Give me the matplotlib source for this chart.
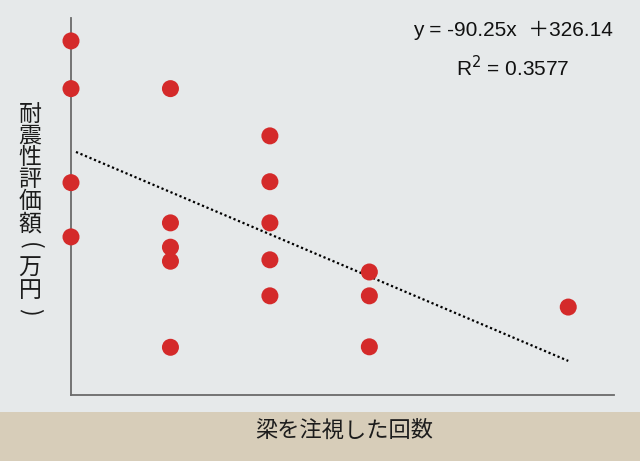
import matplotlib
matplotlib.use("Agg")
import matplotlib.pyplot as plt
from matplotlib.patches import Rectangle

# ---------------------------------------------------------------------------
# Datos
# ---------------------------------------------------------------------------
gaze_count = [0, 0, 0, 0,
              1, 1, 1, 1, 1,
              2, 2, 2, 2, 2,
              3, 3, 3,
              5]
seismic_value = [559, 457, 256, 140,
                 457, 170, 118, 88, -96,
                 356, 258, 170, 91, 14,
                 65, 14, -95,
                 -10]

slope = -90.25
intercept = 326.14
r2 = 0.3577

x_label = "梁を注視した回数"
y_label = "耐震性評価額(万円)"

# ---------------------------------------------------------------------------
# Figura
# ---------------------------------------------------------------------------
plt.rcParams["font.family"] = ["Noto Sans CJK JP", "DejaVu Sans"]

W, H = 640, 461
fig = plt.figure(figsize=(6.4, 4.61), dpi=100, facecolor="#e6e9ea")
# banda inferior beige
fig.patches.append(Rectangle((0, 0), 1, 49 / H, transform=fig.transFigure,
                             facecolor="#d7cdb9", edgecolor="none", zorder=0))

ax = fig.add_axes([71 / W, 66 / H, (614 - 71) / W, (443 - 66) / H])
ax.set_facecolor("none")

ax.scatter(gaze_count, seismic_value, s=150, color="#d42a2a",
           edgecolors="none", zorder=3, clip_on=False)

xs = [0.05, 5.0]
ax.plot(xs, [slope * x + intercept for x in xs], color="black",
        linestyle=(0, (1, 1.2)), linewidth=1.6, zorder=2)

ax.set_xlim(0, 5.46)
ax.set_ylim(-198, 608)

for side in ("top", "right"):
    ax.spines[side].set_visible(False)
for side in ("left", "bottom"):
    ax.spines[side].set_color("#6a6a6a")
    ax.spines[side].set_linewidth(1.3)
ax.set_xticks([])
ax.set_yticks([])

txt_font = ["Liberation Sans", "Noto Sans CJK JP"]
fig.text(513 / W, 1 - 30 / H, f"y = {slope}x  ＋{intercept}", family=txt_font,
         fontsize=15, ha="center", va="center", color="#111111")
fig.text(513 / W, 1 - 68 / H, f"R$^2$ = {r2}", family=txt_font,
         fontsize=15, ha="center", va="center", color="#111111")

fig.text(344 / W, 1 - 430 / H, x_label, fontsize=16,
         ha="center", va="center", color="#1c1c1c")

# etiqueta vertical: un carácter por línea, paréntesis girados
for i, ch in enumerate(y_label):
    rot = -90 if ch in "()" else 0
    fig.text(30 / W, 1 - (114 + 22 * i) / H, ch, fontsize=16.5, rotation=rot,
             ha="center", va="center", color="#1c1c1c")

fig.savefig("out.png", dpi=100, facecolor=fig.get_facecolor())
